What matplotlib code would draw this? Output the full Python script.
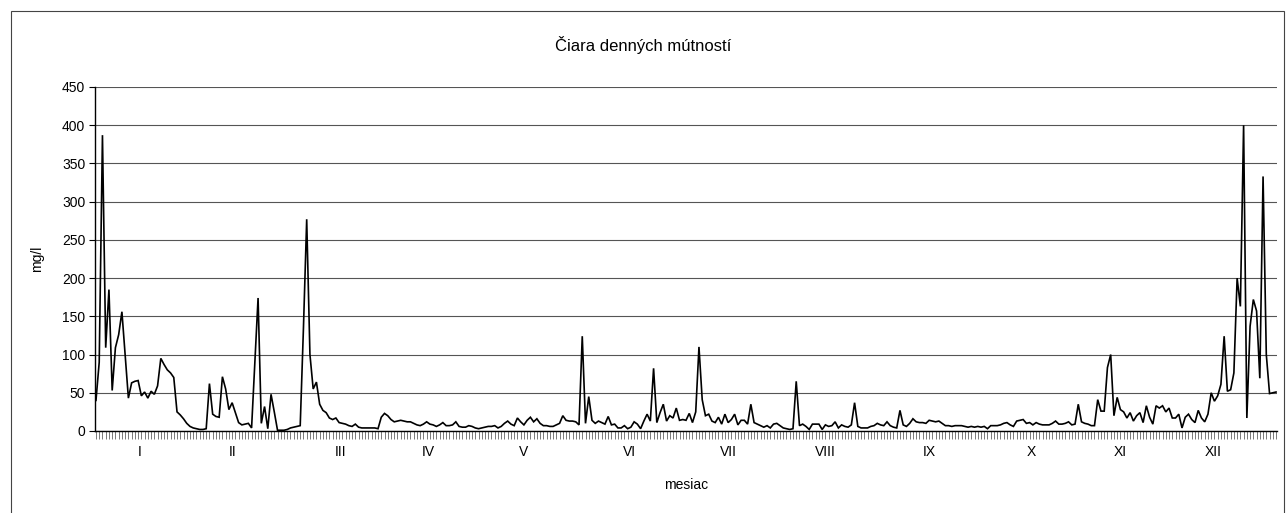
import matplotlib
matplotlib.use("Agg")
import matplotlib.pyplot as plt
import matplotlib.transforms as mtransforms
from matplotlib.patches import Rectangle
import numpy as np

plt.rcParams['font.family'] = ['Liberation Sans', 'DejaVu Sans']

# ---- data (daily turbidity, mg/l) ----
jan = [40, 90, 387, 109, 185, 53, 109, 126, 156, 100, 43, 63, 65, 66, 46, 51,
       43, 52, 48, 59, 95, 87, 80, 76, 70, 25, 21, 16, 10, 6, 4]
feb = [3, 2, 2, 3, 62, 22, 19, 18, 71, 55, 28, 37, 24, 11, 8, 9, 10, 4, 88,
       174, 10, 32, 3, 48, 25, 1, 1, 1]
mar = [2, 4, 5, 6, 7, 135, 277, 100, 55, 64, 35, 27, 24, 17, 15, 17, 11, 10,
       9, 7, 6, 9, 5, 4, 4, 4, 4, 4, 3, 18, 23]
apr = [20, 15, 12, 13, 14, 13, 12, 12, 10, 8, 7, 9, 12, 9, 8, 6, 8, 11, 7, 7,
       8, 12, 6, 5, 5, 7, 6, 4, 3, 4]
may = [5, 6, 6, 7, 4, 6, 10, 13, 9, 7, 17, 12, 8, 14, 18, 12, 16, 10, 7, 7, 6,
       6, 8, 10, 20, 14, 13, 13, 12, 8, 124]
jun = [10, 45, 14, 10, 13, 11, 9, 19, 8, 9, 4, 4, 7, 3, 5, 12, 9, 3, 13, 22,
       13, 82, 11, 24, 35, 13, 20, 17, 30, 14]
jul = [15, 14, 23, 11, 25, 110, 41, 20, 22, 13, 11, 18, 9, 22, 11, 15, 22, 8,
       14, 14, 9, 35, 11, 9, 7, 5, 7, 4, 9, 10, 7]
aug = [4, 3, 2, 3, 65, 7, 9, 6, 2, 9, 9, 9, 2, 8, 6, 7, 12, 4, 8, 6, 5, 8, 37,
       6, 4, 4, 4, 6, 7, 10, 8]
sep = [7, 12, 7, 5, 4, 27, 8, 6, 10, 16, 12, 11, 11, 10, 14, 13, 12, 13, 10, 7,
       7, 6, 7, 7, 7, 6, 5, 6, 5, 6]
oct_ = [5, 6, 3, 7, 7, 7, 8, 10, 11, 8, 6, 13, 14, 15, 10, 11, 8, 11, 9, 8, 8,
        8, 10, 13, 9, 9, 10, 12, 8, 9, 35]
nov = [12, 10, 9, 7, 7, 41, 26, 26, 83, 100, 20, 44, 28, 25, 17, 24, 13, 20,
       24, 11, 33, 18, 9, 33, 30, 33, 25, 30, 17, 17]
dec = [22, 4, 18, 22, 15, 11, 27, 17, 12, 22, 50, 39, 46, 61, 124, 52, 54, 76,
       200, 163, 400, 17, 137, 172, 157, 69, 333, 100, 49, 50, 51]

month_labels = ['I', 'II', 'III', 'IV', 'V', 'VI', 'VII', 'VIII', 'IX', 'X', 'XI', 'XII']
month_label_day = [13.5, 42, 75.5, 102.5, 132, 164.5, 195, 225, 257, 288.5, 316, 344.5]
y_ticks = [0, 50, 100, 150, 200, 250, 300, 350, 400, 450]

title = 'Čiara denných mútností'
xlabel = 'mesiac'
ylabel = 'mg/l'

values = jan + feb + mar + apr + may + jun + jul + aug + sep + oct_ + nov + dec
days = np.arange(len(values))

# ---- figure ----
W, H = 1286, 513
fig = plt.figure(figsize=(W / 100, H / 100), dpi=100)
ax = fig.add_axes([95 / W, 1 - 431 / H, (1277 - 95) / W, (431 - 87) / H])

ax.plot(days, values, color='black', linewidth=1.2, solid_joinstyle='miter')

ax.set_xlim(-0.3, len(values) - 0.7)
ax.set_ylim(0, 450)
ax.set_yticks(y_ticks)
ax.set_yticklabels([str(v) for v in y_ticks], fontsize=10)
ax.yaxis.grid(True, color='#555555', linewidth=0.8)
ax.set_axisbelow(True)

# day ticks (no labels)
ax.set_xticks(days)
ax.set_xticklabels([])
ax.tick_params(axis='x', which='major', length=6, width=0.5, color='#444444', direction='out')
ax.tick_params(axis='y', length=4, width=0.8, pad=3)

# month labels
trans = mtransforms.blended_transform_factory(ax.transData, ax.transAxes)
for lbl, d in zip(month_labels, month_label_day):
    ax.text(d, -21 / 344, lbl, transform=trans, ha='center', va='center', fontsize=10)

for s in ['top', 'right']:
    ax.spines[s].set_visible(False)
ax.spines['left'].set_linewidth(1.0)
ax.spines['bottom'].set_linewidth(1.0)

ax.set_xlabel(xlabel, fontsize=10, labelpad=24)
ax.set_ylabel(ylabel, fontsize=10, labelpad=13)
fig.text(643 / W, 1 - 45 / H, title, ha='center', va='center', fontsize=12)

# chart border
fig.add_artist(Rectangle((10.5 / W, -0.2), (1284 - 10.5) / W, 1.2 - 10.5 / H,
                         transform=fig.transFigure, fill=False,
                         edgecolor='#444444', linewidth=0.8))

fig.savefig('out.png', dpi=100)
